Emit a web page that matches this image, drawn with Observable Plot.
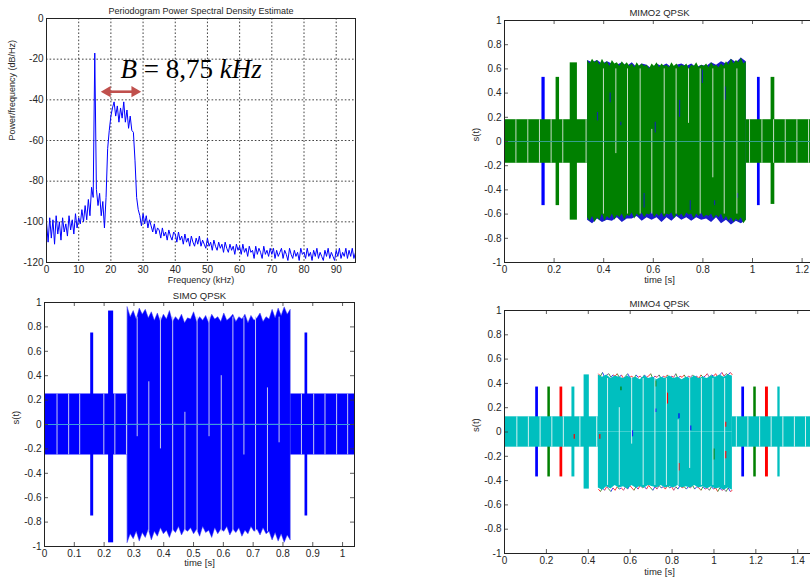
<!DOCTYPE html>
<html><head><meta charset="utf-8">
<script src="https://cdn.jsdelivr.net/npm/d3@7"></script>
<script src="https://cdn.jsdelivr.net/npm/@observablehq/plot@0.6"></script>
<style>
html,body{margin:0;padding:0;background:#fff;overflow:hidden;}
#wrap{position:relative;width:810px;height:585px;overflow:hidden;background:#fff;}
.panel{position:absolute;}
</style></head><body><div id="wrap"></div>
<script>
// ---------- Panel A : periodogram ----------
const psdStartKHz = 0;
const psdStepKHz = 0.5;
const psdValues = [
  -100,-110,-98,-108,-99,-111,-97,-106,-100,-109,-98,-105,-101,-107,-97,-104,-99,-106,-96,-103,
  -98,-101,-94,-100,-92,-99,-89,-97,-83,-88,-17,-84,-92,-86,-97,-90,-103,-88,-64,-55,
  -48,-44,-41,-48,-43,-51,-44,-49,-41,-51,-45,-54,-48,-55,-56,-70,-88,-94,-97,-102,
  -96,-101,-97,-103,-99,-102,-105,-101,-106,-103,-104,-108,-103,-107,-105,-109,-104,-107,-109,-105,
  -106,-110,-105,-109,-107,-111,-106,-110,-108,-112,-107,-110,-112,-108,-111,-107,-112,-109,-111,-113,
  -108,-112,-110,-114,-109,-112,-114,-110,-113,-111,-115,-110,-113,-115,-111,-114,-112,-116,-111,-114,
  -112,-116,-111,-115,-113,-117,-112,-115,-114,-118,-112,-116,-113,-115,-118,-112,-116,-114,-117,-113,
  -116,-113,-118,-114,-117,-115,-113,-118,-114,-116,-119,-113,-116,-118,-114,-117,-115,-119,-113,-116,
  -115,-118,-113,-117,-115,-119,-114,-117,-113,-118,-115,-117,-119,-114,-117,-113,-118,-115,-117,-119,
  -114,-117,-113,-118,-115,-117,-113,-118,-114,-117,-113,-118,-115
];
const psdXDomain = [0, 96];
const psdXTicks = [0,10,20,30,40,50,60,70,80,90];
const psdYTicks = [-120,-100,-80,-60,-40,-20,0];
const psdTitle = "Periodogram Power Spectral Density Estimate";
const psdXLabel = "Frequency (kHz)";
const psdYLabel = "Power/frequency (dB/Hz)";
const bandLabel = "B = 8,75 kHz";
const bandLabelAt = [23, -25];
const bandFrom = 17.7, bandTo = 28.6, bandLevel = -36;

// ---------- Panel C : SIMO ----------
const simoTitle = "SIMO QPSK";
const simoXDomain = [0, 1.04];
const simoXTicks = [0,0.1,0.2,0.3,0.4,0.5,0.6,0.7,0.8,0.9,1];
const sigYTicks = [-1,-0.8,-0.6,-0.4,-0.2,0,0.2,0.4,0.6,0.8,1];
const simoBlockStart = [0, 0.826];
const simoBlockEnd   = [0.279, 1.04];
const simoBlockAmp   = [0.25, 0.25];
const simoBurstStart = [0.155, 0.215, 0.874];
const simoBurstEnd   = [0.165, 0.232, 0.883];
const simoBurstTop   = [0.75, 0.93, 0.75];
const simoBurstBot   = [-0.75, -0.97, -0.75];
const simoMainSpan = [0.279, 0.826];
const simoMainTop = [0.96,0.88,0.93,0.86,0.95,0.9,0.94,0.87,0.92,0.85,0.91,0.84,0.9,0.86,0.93,0.84,0.88,0.85,0.9,0.83,0.87,0.86,0.92,0.84,0.88,0.85,0.89,0.83,0.9,0.86,0.88,0.84,0.91,0.85,0.87,0.9,0.84,0.88,0.86,0.9,0.83,0.89,0.85,0.87,0.91,0.84,0.88,0.86,0.94,0.87,0.95,0.89,0.96,0.9,0.94];
const simoMainBot = [-0.97,-0.9,-0.94,-0.88,-0.96,-0.89,-0.93,-0.86,-0.95,-0.88,-0.92,-0.85,-0.9,-0.87,-0.93,-0.86,-0.89,-0.84,-0.91,-0.86,-0.88,-0.85,-0.9,-0.86,-0.92,-0.84,-0.89,-0.87,-0.93,-0.85,-0.9,-0.86,-0.88,-0.84,-0.91,-0.86,-0.89,-0.85,-0.92,-0.87,-0.9,-0.84,-0.88,-0.86,-0.91,-0.85,-0.9,-0.88,-0.95,-0.89,-0.96,-0.9,-0.97,-0.91,-0.95];
const simoGapT  = [0.042,0.081,0.118,0.199,0.236,0.275,0.311,0.350,0.389,0.430,0.471,0.512,0.552,0.593,0.632,0.669,0.708,0.748,0.787,0.862,0.903,0.941,0.980,1.017];
const simoGapLo = [-0.25,-0.25,-0.25,-0.25,-0.25,-0.25,-0.1,-0.88,-0.2,-0.88,-0.88,-0.88,-0.1,-0.88,-0.88,-0.25,-0.88,-0.88,-0.15,-0.25,-0.25,-0.25,-0.25,-0.25];
const simoGapHi = [0.25,0.25,0.25,0.25,0.25,0.25,0.88,0.35,0.88,0.88,0.1,0.88,0.88,0.4,0.88,0.88,0.88,0.3,0.88,0.25,0.25,0.25,0.25,0.25];

// ---------- Panel B : MIMO2 ----------
const m2Title = "MIMO2 QPSK";
const m2XDomain = [0, 1.25];
const m2XTicks = [0,0.2,0.4,0.6,0.8,1,1.2];
const m2BlueBurstStart = [0.151, 1.02];
const m2BlueBurstEnd   = [0.164, 1.031];
const m2BlueBurstAmp   = [0.53, 0.53];
const m2MainSpan = [0.335, 0.975];
const m2BlueTop = [0.67,0.65,0.67,0.64,0.66,0.64,0.63,0.65,0.62,0.65,0.61,0.64,0.63,0.6,0.64,0.62,0.64,0.61,0.63,0.64,0.62,0.64,0.61,0.63,0.62,0.65,0.63,0.66,0.64,0.68,0.65,0.69,0.66];
const m2BlueBot = [-0.65,-0.68,-0.64,-0.67,-0.65,-0.66,-0.63,-0.67,-0.64,-0.64,-0.62,-0.66,-0.63,-0.65,-0.63,-0.67,-0.63,-0.66,-0.62,-0.65,-0.63,-0.66,-0.63,-0.65,-0.64,-0.67,-0.63,-0.68,-0.65,-0.69,-0.66,-0.68,-0.65];
const m2BlockStart = [0, 0.975];
const m2BlockEnd   = [0.335, 1.25];
const m2BlockAmp   = [0.18, 0.18];
const m2BurstStart = [0.208, 0.265, 1.075];
const m2BurstEnd   = [0.222, 0.294, 1.09];
const m2BurstTop   = [0.53, 0.65, 0.53];
const m2BurstBot   = [-0.53, -0.65, -0.52];
const m2GreenTop = [0.67,0.64,0.68,0.65,0.67,0.63,0.68,0.64,0.66,0.62,0.67,0.64,0.65,0.62,0.66,0.63,0.65,0.62,0.64,0.61,0.65,0.62,0.64,0.62,0.63,0.6,0.64,0.62,0.65,0.61,0.64,0.62,0.63,0.61,0.65,0.62,0.64,0.61,0.63,0.62,0.64,0.6,0.63,0.62,0.65,0.61,0.63,0.62,0.64,0.61,0.65,0.62,0.63,0.61,0.64,0.62,0.66,0.63,0.68,0.64,0.67,0.65,0.69,0.64,0.66];
const m2GreenBot = [-0.63,-0.66,-0.62,-0.67,-0.63,-0.65,-0.6,-0.66,-0.62,-0.64,-0.6,-0.65,-0.61,-0.63,-0.6,-0.65,-0.61,-0.62,-0.59,-0.64,-0.6,-0.62,-0.59,-0.63,-0.6,-0.61,-0.58,-0.63,-0.6,-0.62,-0.59,-0.63,-0.6,-0.61,-0.59,-0.64,-0.6,-0.62,-0.6,-0.63,-0.59,-0.61,-0.6,-0.64,-0.6,-0.62,-0.59,-0.63,-0.61,-0.62,-0.6,-0.64,-0.61,-0.63,-0.6,-0.65,-0.62,-0.66,-0.63,-0.67,-0.64,-0.66,-0.63,-0.68,-0.65];
const m2MarkT  = [0.375,0.426,0.469,0.563,0.608,0.706,0.749,0.798,0.847,0.89,0.94];
const m2MarkLo = [0.17,0.32,0.13,-0.55,0.07,0.2,-0.57,0.48,-0.53,0.34,-0.47];
const m2MarkHi = [0.24,0.4,0.16,-0.43,0.16,0.34,-0.49,0.59,-0.49,0.45,-0.43];
const m2GapT  = [0.046,0.094,0.141,0.188,0.235,0.329,0.399,0.449,0.496,0.547,0.594,0.644,0.692,0.742,0.789,0.840,0.886,0.937,0.988,1.038,1.085,1.132,1.179,1.226];
const m2GapLo = [-0.18,-0.18,-0.18,-0.18,-0.18,-0.18,-0.6,-0.1,-0.6,-0.6,-0.6,-0.6,-0.6,0.15,-0.6,-0.3,-0.6,-0.6,-0.18,-0.18,-0.18,-0.18,-0.18,-0.18];
const m2GapHi = [0.18,0.18,0.18,0.18,0.18,0.18,0.6,0.6,0.6,0.6,0.1,0.6,0.6,0.6,0.6,0.6,0.6,0.6,0.18,0.18,0.18,0.18,0.18,0.18];

// ---------- Panel D : MIMO4 ----------
const m4Title = "MIMO4 QPSK";
const m4XDomain = [0, 1.48];
const m4XTicks = [0,0.2,0.4,0.6,0.8,1,1.2,1.4];
const m4ColBurstStart = [0.149, 0.207, 0.265, 1.133, 1.19, 1.246];
const m4ColBurstEnd   = [0.162, 0.219, 0.278, 1.146, 1.202, 1.26];
const m4ColBurstSeries= ["Tx1","Tx2","Tx3","Tx1","Tx2","Tx3"];
const m4ColBurstAmp   = [0.37, 0.37, 0.37, 0.37, 0.37, 0.37];
const m4BlockStart = [0, 1.088];
const m4BlockEnd   = [0.448, 1.48];
const m4BlockAmp   = [0.125, 0.125];
const m4BurstStart = [0.322, 0.38, 1.305];
const m4BurstEnd   = [0.336, 0.405, 1.316];
const m4BurstTop   = [0.37, 0.47, 0.37];
const m4BurstBot   = [-0.37, -0.47, -0.37];
const m4MainSpan = [0.448, 1.088];
const m4EdgeTop = [0.48,0.46,0.49,0.45,0.47,0.48,0.45,0.47,0.46,0.48,0.45,0.47,0.44,0.46,0.48,0.45,0.46,0.44,0.47,0.45,0.46,0.44,0.47,0.45,0.46,0.48,0.44,0.46,0.45,0.47,0.44,0.46,0.45,0.47,0.44,0.46,0.45,0.48,0.44,0.46,0.45,0.47,0.44,0.46,0.45,0.47,0.45,0.46,0.44,0.47,0.45,0.46,0.48,0.45,0.47,0.46,0.48,0.45,0.47,0.49,0.46,0.48,0.47,0.49,0.47];
const m4EdgeBot = [-0.47,-0.49,-0.46,-0.48,-0.45,-0.47,-0.49,-0.46,-0.48,-0.45,-0.47,-0.46,-0.48,-0.45,-0.47,-0.44,-0.46,-0.48,-0.45,-0.47,-0.44,-0.46,-0.45,-0.47,-0.44,-0.46,-0.48,-0.45,-0.47,-0.44,-0.46,-0.45,-0.47,-0.44,-0.46,-0.45,-0.48,-0.45,-0.47,-0.44,-0.46,-0.45,-0.47,-0.45,-0.46,-0.44,-0.47,-0.45,-0.46,-0.48,-0.45,-0.47,-0.46,-0.48,-0.45,-0.47,-0.46,-0.49,-0.46,-0.48,-0.47,-0.49,-0.46,-0.49,-0.48];
const m4EdgeSeries = ["Tx3","Tx2","Tx1","Tx3","Tx4m","Tx2","Tx1","Tx3"];
const m4CyanTop = [0.47,0.45,0.47,0.44,0.46,0.45,0.44,0.46,0.44,0.45,0.43,0.46,0.44,0.45,0.43,0.45,0.44,0.46,0.44,0.45,0.43,0.45,0.44,0.46,0.44,0.45,0.44,0.46,0.45,0.47,0.45,0.47,0.46];
const m4CyanBot = [-0.46,-0.48,-0.45,-0.47,-0.44,-0.46,-0.45,-0.47,-0.44,-0.46,-0.45,-0.46,-0.44,-0.45,-0.46,-0.44,-0.46,-0.45,-0.46,-0.44,-0.46,-0.45,-0.46,-0.44,-0.46,-0.45,-0.47,-0.45,-0.47,-0.46,-0.48,-0.46,-0.48];
const m4MarkT  = [0.333,0.455,0.556,0.611,0.722,0.722,0.778,0.833,0.833,0.889,1.0,1.056,1.056];
const m4MarkLo = [-0.06,-0.06,0.34,-0.04,0.37,0.16,0.23,0.11,-0.32,0.01,-0.23,0.04,-0.22];
const m4MarkHi = [-0.02,-0.02,0.37,0.01,0.42,0.19,0.32,0.15,-0.26,0.05,-0.14,0.08,-0.16];
const m4MarkSeries = ["Tx3","Tx3","Tx2","Tx1","Tx2","Tx1","Tx3","Tx1","Tx3","Tx1","Tx2","Tx3","Tx3"];
const m4GapT = [0.059,0.114,0.17,0.226,0.281,0.36,0.44,0.492,0.548,0.607,0.662,0.718,0.773,0.829,0.884,0.940,0.995,1.051,1.107,1.162,1.218,1.273,1.329,1.384,1.437];
const m4GapLo = [-0.125,-0.125,-0.125,-0.125,-0.125,-0.125,-0.125,-0.44,-0.44,-0.1,-0.44,-0.44,-0.44,-0.44,-0.3,-0.44,-0.44,-0.44,-0.125,-0.125,-0.125,-0.125,-0.125,-0.125,-0.125];
const m4GapHi = [0.125,0.125,0.125,0.125,0.125,0.125,0.125,0.44,0.2,0.44,0.44,0.44,0.44,0.1,0.44,0.44,0.44,0.44,0.125,0.125,0.125,0.125,0.125,0.125,0.125];

const sigXLabel = "time [s]";
const sigYLabel = "s(t)";

// ---------- styling ----------
const FONT = "'Liberation Sans', Arial, Helvetica, sans-serif";
const TXT = "#262626";
const BLUE = "#0000ff", GREEN = "#008000", RED = "#ff0000", CYAN = "#00bfbf";
const seriesColor = {Tx1: BLUE, Tx2: GREEN, Tx3: RED, Tx4m: "#8a2a8a"};
const wrap = document.getElementById("wrap");

function place(svg, left, top) {
  const d = document.createElement("div");
  d.className = "panel";
  d.style.left = left + "px"; d.style.top = top + "px";
  d.appendChild(svg); wrap.appendChild(d);
}
const idx = a => a.map((_, i) => i);
const seq = (span, vals) => vals.map((v, i) => ({t: span[0] + (span[1] - span[0]) * i / (vals.length - 1), v}));

function decor({xTicks, yTicks, plotW, plotH, title, titleDy, titleSize, xLabel, xLabelDy, yLabel, yLabelDx, labelSize, innerTicks}) {
  const m = [
    Plot.axisX(xTicks, {tickSize: 0, tickPadding: 3, tickFormat: d => String(d), label: null}),
    Plot.axisY(yTicks, {tickSize: 0, tickPadding: 3, tickFormat: d => String(d), label: null}),
    Plot.text([title], {text: d => d, frameAnchor: "top", dy: titleDy, fontSize: titleSize, fill: TXT}),
    Plot.text([xLabel], {text: d => d, frameAnchor: "bottom", dy: xLabelDy, fontSize: labelSize, fill: TXT}),
    Plot.text([yLabel], {text: d => d, frameAnchor: "left", rotate: -90, dx: yLabelDx, fontSize: labelSize, fill: TXT})
  ];
  if (innerTicks) {
    m.push(
      Plot.ruleX(xTicks, {x: d => d, insetTop: plotH - 4, stroke: "#333", strokeWidth: 0.8}),
      Plot.ruleX(xTicks, {x: d => d, insetBottom: plotH - 4, stroke: "#333", strokeWidth: 0.8}),
      Plot.ruleY(yTicks, {y: d => d, insetRight: plotW - 4, stroke: "#333", strokeWidth: 0.8}),
      Plot.ruleY(yTicks, {y: d => d, insetLeft: plotW - 4, stroke: "#333", strokeWidth: 0.8})
    );
  }
  m.push(Plot.frame({stroke: "#222", strokeWidth: 1}));
  return m;
}
const svgStyle = {background: "transparent", maxWidth: "none", overflow: "visible", fontFamily: FONT, fontSize: "10px", color: TXT};

// ----- Panel A -----
const psd = psdValues.map((p, i) => ({f: psdStartKHz + i * psdStepKHz, p}));
const gridX = psdXTicks.filter(d => d > psdXDomain[0] && d < psdXDomain[1]);
const gridY = psdYTicks.filter(d => d > -120 && d < 0);
const ARROW = "#c0504d";
const svgA = Plot.plot({
  width: 370, height: 292, marginLeft: 46, marginTop: 18, marginRight: 15, marginBottom: 30,
  style: svgStyle,
  x: {domain: psdXDomain}, y: {domain: [-120, 0]},
  marks: [
    Plot.ruleX(gridX, {x: d => d, stroke: "#111", strokeWidth: 0.8, strokeDasharray: "1.6,2"}),
    Plot.ruleY(gridY, {y: d => d, stroke: "#111", strokeWidth: 0.8, strokeDasharray: "1.6,2"}),
    Plot.line(psd, {x: "f", y: "p", stroke: BLUE, strokeWidth: 1, clip: true}),
    Plot.ruleY([bandLevel], {y: d => d, x1: bandFrom + 1.6, x2: bandTo - 1.6, stroke: ARROW, strokeWidth: 2.6}),
    Plot.dot([bandFrom + 1.2], {x: d => d, y: bandLevel, symbol: "triangle", rotate: -90, r: 4.2, fill: ARROW, stroke: null}),
    Plot.dot([bandTo - 1.2], {x: d => d, y: bandLevel, symbol: "triangle", rotate: 90, r: 4.2, fill: ARROW, stroke: null}),
    Plot.text([bandLabel], {text: d => d, x: bandLabelAt[0], y: bandLabelAt[1], textAnchor: "start", fontSize: 27, fontFamily: "'Liberation Serif', 'DejaVu Serif', serif", fill: "#000"}),
    ...decor({xTicks: psdXTicks, yTicks: psdYTicks, plotW: 309, plotH: 244, title: psdTitle, titleDy: -11, titleSize: 9,
      xLabel: psdXLabel, xLabelDy: 20, yLabel: psdYLabel, yLabelDx: -34, labelSize: 9, innerTicks: false})
  ]
});
d3.select(svgA).selectAll("text").filter(function() { return this.textContent === bandLabel; }).each(function() {
  const t = d3.select(this); t.text(null).style("white-space", "pre");
  bandLabel.split(" ").forEach((w, i) => {
    t.append("tspan").attr("font-style", /^[A-Za-z]+$/.test(w) ? "italic" : "normal").text((i ? " " : "") + w);
  });
});
place(svgA, 0, 0);

// ----- Panel C (SIMO) -----
const svgC = Plot.plot({
  width: 370, height: 292, marginLeft: 44, marginTop: 18, marginRight: 16, marginBottom: 30,
  style: svgStyle,
  x: {domain: simoXDomain}, y: {domain: [-1, 1]},
  marks: [
    Plot.rect(idx(simoBlockStart), {x1: i => simoBlockStart[i], x2: i => simoBlockEnd[i], y1: i => -simoBlockAmp[i], y2: i => simoBlockAmp[i], fill: BLUE}),
    Plot.rect(idx(simoBurstStart), {x1: i => simoBurstStart[i], x2: i => simoBurstEnd[i], y1: i => simoBurstBot[i], y2: i => simoBurstTop[i], fill: BLUE}),
    Plot.areaY(seq(simoMainSpan, simoMainTop), {x: "t", y1: 0, y2: "v", fill: BLUE, stroke: "#3a3af0", strokeWidth: 0.5}),
    Plot.areaY(seq(simoMainSpan, simoMainBot), {x: "t", y1: 0, y2: "v", fill: BLUE, stroke: "#3a3af0", strokeWidth: 0.5}),
    Plot.ruleX(idx(simoGapT), {x: i => simoGapT[i], y1: i => simoGapLo[i], y2: i => simoGapHi[i], stroke: "#c6c6f2", strokeWidth: 1}),
    Plot.ruleY([0], {y: d => d, stroke: "#3d9ddb", strokeWidth: 1}),
    ...decor({xTicks: simoXTicks, yTicks: sigYTicks, plotW: 310, plotH: 244, title: simoTitle, titleDy: -10, titleSize: 9.5,
      xLabel: sigXLabel, xLabelDy: 19.5, yLabel: sigYLabel, yLabelDx: -29, labelSize: 9.5, innerTicks: true})
  ]
});
place(svgC, 0, 284);

// ----- Panel B (MIMO2) -----
const svgB = Plot.plot({
  width: 384, height: 292, marginLeft: 64, marginTop: 20, marginRight: 10, marginBottom: 30,
  style: svgStyle,
  x: {domain: m2XDomain}, y: {domain: [-1, 1]},
  marks: [
    Plot.rect(idx(m2BlueBurstStart), {x1: i => m2BlueBurstStart[i], x2: i => m2BlueBurstEnd[i], y1: i => -m2BlueBurstAmp[i], y2: i => m2BlueBurstAmp[i], fill: BLUE}),
    Plot.areaY(seq(m2MainSpan, m2BlueTop), {x: "t", y1: 0, y2: "v", fill: "#1a1acc"}),
    Plot.areaY(seq(m2MainSpan, m2BlueBot), {x: "t", y1: 0, y2: "v", fill: "#1a1acc"}),
    Plot.rect(idx(m2BlockStart), {x1: i => m2BlockStart[i], x2: i => m2BlockEnd[i], y1: i => -m2BlockAmp[i], y2: i => m2BlockAmp[i], fill: GREEN}),
    Plot.rect(idx(m2BurstStart), {x1: i => m2BurstStart[i], x2: i => m2BurstEnd[i], y1: i => m2BurstBot[i], y2: i => m2BurstTop[i], fill: GREEN}),
    Plot.areaY(seq(m2MainSpan, m2GreenTop), {x: "t", y1: 0, y2: "v", fill: GREEN}),
    Plot.areaY(seq(m2MainSpan, m2GreenBot), {x: "t", y1: 0, y2: "v", fill: GREEN}),
    Plot.ruleX(idx(m2MarkT), {x: i => m2MarkT[i], y1: i => m2MarkLo[i], y2: i => m2MarkHi[i], stroke: "#1030a0", strokeWidth: 1.2}),
    Plot.ruleX(idx(m2GapT), {x: i => m2GapT[i], y1: i => m2GapLo[i], y2: i => m2GapHi[i], stroke: "#c4dcc4", strokeWidth: 1}),
    Plot.ruleY([0], {y: d => d, stroke: "#35a08e", strokeWidth: 1}),
    ...decor({xTicks: m2XTicks, yTicks: sigYTicks, plotW: 310, plotH: 242, title: m2Title, titleDy: -11, titleSize: 9.5,
      xLabel: sigXLabel, xLabelDy: 20.5, yLabel: sigYLabel, yLabelDx: -29, labelSize: 9.5, innerTicks: true})
  ]
});
place(svgB, 440, 0);

// ----- Panel D (MIMO4) -----
const edgeRows = (vals) => {
  const pts = seq(m4MainSpan, vals);
  return pts.slice(0, -1).map((p, i) => ({t1: p.t, v1: p.v, t2: pts[i + 1].t, v2: pts[i + 1].v, s: m4EdgeSeries[i % m4EdgeSeries.length]}));
};
const svgD = Plot.plot({
  width: 384, height: 293, marginLeft: 64, marginTop: 20, marginRight: 10, marginBottom: 30,
  style: svgStyle,
  x: {domain: m4XDomain}, y: {domain: [-1, 1]},
  marks: [
    Plot.rect(idx(m4ColBurstStart), {x1: i => m4ColBurstStart[i], x2: i => m4ColBurstEnd[i], y1: i => -m4ColBurstAmp[i], y2: i => m4ColBurstAmp[i], fill: i => seriesColor[m4ColBurstSeries[i]]}),
    Plot.link(edgeRows(m4EdgeTop), {x1: "t1", y1: "v1", x2: "t2", y2: "v2", stroke: d => seriesColor[d.s], strokeWidth: 0.9, strokeOpacity: 0.85}),
    Plot.link(edgeRows(m4EdgeBot), {x1: "t1", y1: "v1", x2: "t2", y2: "v2", stroke: d => seriesColor[d.s], strokeWidth: 0.9, strokeOpacity: 0.85}),
    Plot.rect(idx(m4BlockStart), {x1: i => m4BlockStart[i], x2: i => m4BlockEnd[i], y1: i => -m4BlockAmp[i], y2: i => m4BlockAmp[i], fill: CYAN}),
    Plot.rect(idx(m4BurstStart), {x1: i => m4BurstStart[i], x2: i => m4BurstEnd[i], y1: i => m4BurstBot[i], y2: i => m4BurstTop[i], fill: CYAN}),
    Plot.areaY(seq(m4MainSpan, m4CyanTop), {x: "t", y1: 0, y2: "v", fill: CYAN}),
    Plot.areaY(seq(m4MainSpan, m4CyanBot), {x: "t", y1: 0, y2: "v", fill: CYAN}),
    Plot.ruleX(idx(m4MarkT), {x: i => m4MarkT[i], y1: i => m4MarkLo[i], y2: i => m4MarkHi[i], stroke: i => seriesColor[m4MarkSeries[i]], strokeWidth: 1.2}),
    Plot.ruleX(idx(m4GapT), {x: i => m4GapT[i], y1: i => m4GapLo[i], y2: i => m4GapHi[i], stroke: "#d2f1f1", strokeWidth: 1}),
    ...decor({xTicks: m4XTicks, yTicks: sigYTicks, plotW: 310, plotH: 243, title: m4Title, titleDy: -10, titleSize: 9.5,
      xLabel: sigXLabel, xLabelDy: 21, yLabel: sigYLabel, yLabelDx: -29, labelSize: 9.5, innerTicks: true})
  ]
});
place(svgD, 440, 290);
</script></body></html>
